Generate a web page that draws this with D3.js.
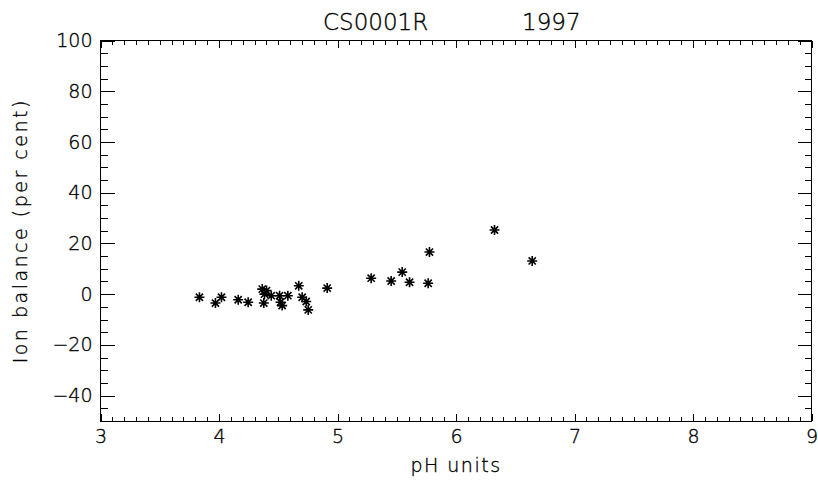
<!DOCTYPE html>
<html>
<head>
<meta charset="utf-8">
<script src="https://cdn.jsdelivr.net/npm/d3@7"></script>
<style>
  html, body { margin: 0; padding: 0; background: #fff; }
  svg text { font-family: "DejaVu Sans", sans-serif; font-weight: 200; fill: #000; stroke: #000; stroke-width: 0.35px; }
</style>
</head>
<body>
<svg id="chart" width="818" height="481"></svg>
<script>
// Ion balance against pH, site CS0001R, 1997
const siteCode = "CS0001R";
const year = "1997";
const xLabel = "pH units";
const yLabel = "Ion balance (per cent)";

const phValues = [3.835, 3.970, 4.021, 4.162, 4.246, 4.365, 4.401, 4.384, 4.378, 4.441,
                  4.511, 4.519, 4.533, 4.581, 4.673, 4.702, 4.736, 4.753, 4.913, 5.284,
                  5.453, 5.546, 5.608, 5.765, 5.776, 6.325, 6.643];
const ionBalance = [-1.2, -3.5, -1.2, -2.2, -3.2, 2.0, 1.4, 0.0, -3.5, -0.6,
                    -0.6, -3.2, -4.5, -0.6, 3.3, -1.2, -2.9, -6.2, 2.4, 6.3,
                    5.2, 8.7, 4.7, 4.3, 16.6, 25.3, 13.1];

const xDomain = [3, 9];
const yDomain = [-50, 100];
const xMajorTicks = [3, 4, 5, 6, 7, 8, 9];
const xMinorStep = 0.1;
const yMajorTicks = [-40, -20, 0, 20, 40, 60, 80, 100];
const yMinorStep = 5;

const svg = d3.select("#chart");
svg.append("rect").attr("width", 818).attr("height", 481).attr("fill", "#fff");

const plotLeft = 100.5, plotRight = 811.5, plotTop = 40.5, plotBottom = 421;
const x = d3.scaleLinear().domain(xDomain).range([plotLeft, plotRight]);
const y = d3.scaleLinear().domain(yDomain).range([plotBottom, plotTop]);

const xMinor = d3.range(xDomain[0], xDomain[1] + 1e-9, xMinorStep).map(v => +v.toFixed(2));
const yMinor = d3.range(yDomain[0], yDomain[1] + 1e-9, yMinorStep);

const fmt = d => (d < 0 ? "\u2212" + Math.abs(d) : String(d));

function styleAxis(g) {
  g.select(".domain").remove();
  g.selectAll("line").attr("stroke", "#000").attr("stroke-width", 1).attr("shape-rendering", "crispEdges");
  g.selectAll("text").attr("font-size", 19).attr("fill", "#000");
}

// bottom axis
svg.append("g").attr("transform", `translate(0,${plotBottom})`)
  .call(d3.axisBottom(x).tickValues(xMinor).tickSize(-4).tickFormat(""))
  .call(styleAxis);
svg.append("g").attr("transform", `translate(0,${plotBottom})`)
  .call(d3.axisBottom(x).tickValues(xMajorTicks).tickSize(-7).tickPadding(9).tickFormat(d3.format("d")))
  .call(styleAxis)
  .call(g => g.selectAll("text").attr("dy", "0.71em"));

// top axis
svg.append("g").attr("transform", `translate(0,${plotTop})`)
  .call(d3.axisTop(x).tickValues(xMinor).tickSize(-4).tickFormat(""))
  .call(styleAxis);
svg.append("g").attr("transform", `translate(0,${plotTop})`)
  .call(d3.axisTop(x).tickValues(xMajorTicks).tickSize(-7).tickFormat(""))
  .call(styleAxis);

// left axis
svg.append("g").attr("transform", `translate(${plotLeft},0)`)
  .call(d3.axisLeft(y).tickValues(yMinor).tickSize(-7).tickFormat(""))
  .call(styleAxis);
svg.append("g").attr("transform", `translate(${plotLeft},0)`)
  .call(d3.axisLeft(y).tickValues(yMajorTicks).tickSize(-14).tickPadding(8).tickFormat(fmt))
  .call(styleAxis);

// right axis
svg.append("g").attr("transform", `translate(${plotRight},0)`)
  .call(d3.axisRight(y).tickValues(yMinor).tickSize(-7).tickFormat(""))
  .call(styleAxis);
svg.append("g").attr("transform", `translate(${plotRight},0)`)
  .call(d3.axisRight(y).tickValues(yMajorTicks).tickSize(-14).tickFormat(""))
  .call(styleAxis);

// frame
svg.append("rect")
  .attr("x", plotLeft).attr("y", plotTop)
  .attr("width", plotRight - plotLeft).attr("height", plotBottom - plotTop)
  .attr("fill", "none").attr("stroke", "#000").attr("stroke-width", 1)
  .attr("shape-rendering", "crispEdges");

// asterisk markers
const star = "M-5,0H5M0,-5V5M-3.6,-3.6L3.6,3.6M-3.6,3.6L3.6,-3.6";
svg.append("g").selectAll("path")
  .data(phValues.map((p, i) => [p, ionBalance[i]]))
  .join("path")
  .attr("transform", d => `translate(${x(d[0])},${y(d[1])})`)
  .attr("d", star)
  .attr("fill", "none")
  .attr("stroke", "#000")
  .attr("stroke-width", 1.6);

// titles
const cx = (plotLeft + plotRight) / 2;
svg.append("text").attr("x", cx - 133).attr("y", 29.5).attr("font-size", 23).text(siteCode);
svg.append("text").attr("x", cx + 66).attr("y", 29.5).attr("font-size", 23).text(year);

svg.append("text").attr("x", cx).attr("y", 472).attr("text-anchor", "middle")
  .attr("font-size", 19).attr("letter-spacing", 1.5).text(xLabel);

svg.append("text")
  .attr("transform", `translate(27,${(plotTop + plotBottom) / 2}) rotate(-90)`)
  .attr("text-anchor", "middle").attr("font-size", 19).attr("letter-spacing", 2.5).text(yLabel);
</script>
</body>
</html>
